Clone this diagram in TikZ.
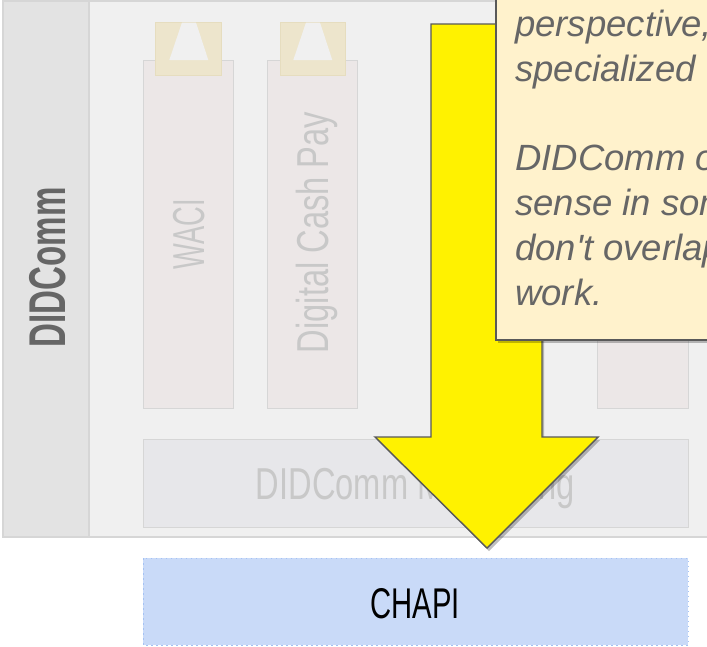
\documentclass[tikz,border=0pt]{standalone}
\usepackage{fontspec}
\setmainfont{Liberation Sans}
\newfontfamily\condf[FakeStretch=0.68]{Liberation Sans}
\newfontfamily\condw[FakeStretch=0.73]{Liberation Sans}
\newfontfamily\condn[FakeStretch=0.61]{Liberation Sans}
\newfontfamily\condb[FakeStretch=0.64]{Liberation Sans}
\usetikzlibrary{shadows}
\definecolor{innerbg}{HTML}{F0F0F0}
\definecolor{stripbg}{HTML}{E3E3E3}
\definecolor{boxline}{HTML}{D6D6D6}
\definecolor{colfill}{HTML}{ECE7E7}
\definecolor{tabfill}{HTML}{EDE5CC}
\definecolor{tabline}{HTML}{E6DDBF}
\definecolor{msgfill}{HTML}{E7E7EA}
\definecolor{chapifill}{HTML}{C9DAF8}
\definecolor{chapiline}{HTML}{A4C2F4}
\definecolor{darkline}{HTML}{595959}
\definecolor{notefill}{HTML}{FFF2CC}
\definecolor{notetext}{HTML}{666666}
\definecolor{ghost}{HTML}{C8C8C8}
\tikzset{
  colbox/.style={draw=boxline, line width=1pt, fill=colfill},
  tabbox/.style={draw=tabline, line width=0.8pt, fill=tabfill},
  ghosttext/.style={text=ghost, font=\condw\fontsize{44.7}{50}\selectfont, inner sep=0pt},
  notestyle/.style={anchor=base west, inner sep=0pt, text=notetext, font=\fontsize{36.5}{44.8}\selectfont\itshape},
  shadowed/.style={drop shadow={shadow xshift=2pt, shadow yshift=-3pt, opacity=0.25, fill=black}}
}
\begin{document}
\begin{tikzpicture}[x=1pt, y=-1pt]
\useasboundingbox (0,0) rectangle (707,646);
\clip (0,0) rectangle (707,646);
% outer DIDComm container
\draw[draw=boxline, line width=1.3pt, fill=innerbg] (3,1) rectangle (720,537);
\draw[draw=boxline, line width=1.3pt, fill=stripbg] (3,1) rectangle (89,537);
\node[rotate=90, anchor=base, inner sep=0pt, text=notetext,
      font=\condb\bfseries\fontsize{51.7}{56}\selectfont] (didcomm) at (65,267.5) {DIDComm};
% columns
\draw[colbox] (143,60) rectangle (233,408);
\draw[colbox] (267,60) rectangle (357,408);
\draw[colbox] (597,60) rectangle (688,408);
% tabs
\draw[tabbox] (155.5,22.5) rectangle (221,75);
\fill[innerbg] (182,22.5) -- (196,22.5) -- (208.3,60) -- (169.3,60) -- cycle;
\draw[tabbox] (280,22.5) rectangle (345,75);
\fill[innerbg] (306,22.5) -- (320,22.5) -- (332.3,60) -- (293.3,60) -- cycle;
\node[ghosttext, rotate=90, font=\condn\fontsize{44.7}{50}\selectfont] (waci) at (189,234) {WACI};
\node[ghosttext, rotate=90] (dcp) at (317,232.5) {Digital Cash Pay};
% messaging
\draw[colbox, fill=msgfill] (143,439) rectangle (688,527);
\node[ghosttext, anchor=base] (msg) at (415.5,499) {DIDComm Messaging};
% CHAPI
\draw[draw=chapiline, line width=1pt, dash pattern=on 1.5pt off 3.5pt, fill=chapifill] (143,558) rectangle (688,645);
\node[anchor=base, inner sep=0pt, font=\condf\fontsize{43}{48}\selectfont] (chapi) at (415,618) {CHAPI};
% yellow arrow
\draw[shadowed, draw=darkline, line width=1.4pt, fill=yellow, line join=miter]
  (431,24) -- (542,24) -- (542,437) -- (598,437) -- (487,548) -- (375,437) -- (431,437) -- cycle;
% note
\draw[shadowed, draw=darkline, line width=1.5pt, fill=notefill] (496,-10) rectangle (730,340);
\node[notestyle] (n1) at (515,36.5) {perspective, a};
\node[notestyle] (n2) at (515,81.3) {specialized};
\node[notestyle] (n3) at (515,170.9) {DIDComm only};
\node[notestyle] (n4) at (515,215.7) {sense in some};
\node[notestyle] (n5) at (515,260.5) {don\textquotesingle t overlap};
\node[notestyle] (n6) at (515,305.3) {work.};
\end{tikzpicture}
\end{document}
